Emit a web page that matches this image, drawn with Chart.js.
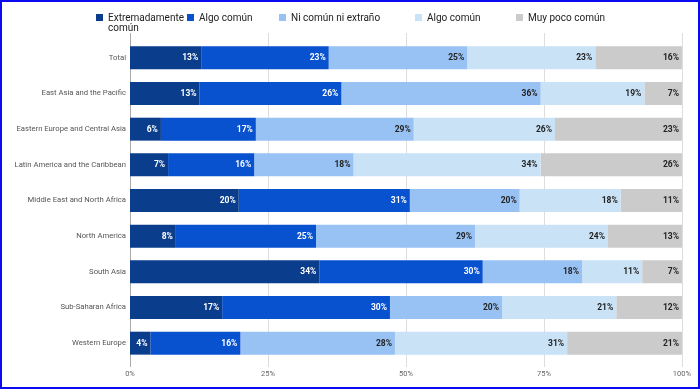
<!DOCTYPE html>
<html>
<head>
<meta charset="utf-8">
<script src="https://cdn.jsdelivr.net/npm/chart.js@4"></script>
<style>
html,body{margin:0;padding:0;background:#fff;}
#wrap{position:relative;width:700px;height:389px;overflow:hidden;font-family:Roboto,sans-serif;}
#c{position:absolute;left:0;top:0;}
#border{position:absolute;left:0;top:0;width:700px;height:389px;box-sizing:border-box;border:2px solid #0a0af0;pointer-events:none;}
.lg{position:absolute;font-size:10px;color:#222;line-height:10px;white-space:nowrap;}
.lg i{position:absolute;left:0;top:1px;width:7px;height:7px;}
.lg span{position:absolute;left:12px;top:0;}
</style>
</head>
<body>
<div id="wrap">
<canvas id="c" width="700" height="389"></canvas>
<div id="legend"></div>
<div id="border"></div>
</div>
<script>
const categories = ["Total","East Asia and the Pacific","Eastern Europe and Central Asia","Latin America and the Caribbean","Middle East and North Africa","North America","South Asia","Sub-Saharan Africa","Western Europe"];
const seriesNames = [["Extremadamente","común"],["Algo común"],["Ni común ni extraño"],["Algo común"],["Muy poco común"]];
const extremadamente = [12.9,12.6,5.6,6.9,19.7,8.3,34.3,16.7,3.7];
const algoComun1 = [23.1,25.7,17.2,15.6,31.0,25.4,29.6,30.4,16.3];
const niComun = [25.1,36.1,28.6,18.0,19.9,28.8,18.0,20.3,28.0];
const algoComun2 = [23.2,18.8,25.6,33.9,18.3,24.1,10.9,20.7,31.2];
const muyPoco = [15.7,6.8,23.0,25.6,11.1,13.4,7.2,11.9,20.8];
const xTicks = [0,25,50,75,100];
const colors = ["#0a3d8c","#0852d0","#99c2f4","#c9e2f6","#cbcbcb"];
const labelColors = ["#ffffff","#ffffff","#222222","#222222","#222222"];
const seriesValues = [extremadamente,algoComun1,niComun,algoComun2,muyPoco];
const FONT = 'Roboto, sans-serif';

const legendPos = [96,187,279,415,516];
const legendEl = document.getElementById('legend');
seriesNames.forEach((n,i)=>{
  const d=document.createElement('div');
  d.className='lg';
  d.style.left=legendPos[i]+'px';
  d.style.top='13px';
  d.innerHTML='<i style="background:'+colors[i]+'"></i><span>'+n.join('<br>')+'</span>';
  legendEl.appendChild(d);
});

const gridLines = {
  id:'gridLines',
  beforeDatasetsDraw(chart){
    const ctx=chart.ctx, x=chart.scales.x, a=chart.chartArea;
    ctx.save();
    ctx.lineWidth=1;
    xTicks.forEach(v=>{
      const px=Math.round(x.getPixelForValue(v))+0.5;
      ctx.strokeStyle = v===0 ? '#aaaaaa' : '#dddddd';
      ctx.beginPath();
      ctx.moveTo(px,a.top-7);
      ctx.lineTo(px,a.bottom+6);
      ctx.stroke();
    });
    ctx.restore();
  }
};

const valueLabels = {
  id:'valueLabels',
  afterDatasetsDraw(chart){
    const ctx=chart.ctx;
    ctx.save();
    ctx.font='bold 8.5px '+FONT;
    ctx.textAlign='right';
    ctx.textBaseline='middle';
    chart.data.datasets.forEach((ds,di)=>{
      const meta=chart.getDatasetMeta(di);
      meta.data.forEach((bar,i)=>{
        const v=ds.data[i];
        ctx.fillStyle=labelColors[di];
        ctx.fillText(Math.round(v)+'%', bar.x-3, bar.y+0.5);
      });
    });
    ctx.restore();
  }
};

new Chart(document.getElementById('c'),{
  type:'bar',
  data:{
    labels:categories,
    datasets:seriesValues.map((vals,i)=>({
      label:seriesNames[i].join(' '),
      data:vals,
      backgroundColor:colors[i],
      borderWidth:0,
      categoryPercentage:0.643,
      barPercentage:1
    }))
  },
  options:{
    indexAxis:'y',
    responsive:false,
    animation:false,
    devicePixelRatio:1,
    layout:{padding:{top:40,right:16,left:0,bottom:0}},
    plugins:{legend:{display:false},tooltip:{enabled:false}},
    scales:{
      x:{
        stacked:true,min:0,max:100,
        afterBuildTicks(s){s.ticks=xTicks.map(v=>({value:v}));},
        afterFit(s){s.height=28;},
        ticks:{callback:v=>v+'%',color:'#666',font:{size:7.5,family:FONT},padding:9,maxRotation:0},
        grid:{display:false,drawTicks:false},
        border:{display:false}
      },
      y:{
        stacked:true,
        afterFit(s){s.width=130;},
        ticks:{color:'#555',font:{size:7.7,family:FONT},padding:4},
        grid:{display:false,drawTicks:false},
        border:{display:false}
      }
    }
  },
  plugins:[gridLines,valueLabels]
});
</script>
</body>
</html>
